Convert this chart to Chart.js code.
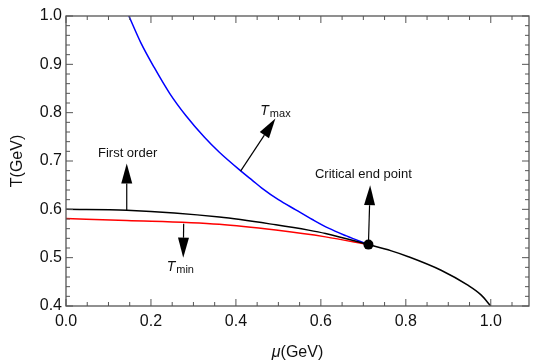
<!DOCTYPE html>
<html>
<head>
<meta charset="utf-8">
<script src="https://cdn.jsdelivr.net/npm/chart.js@4"></script>
<style>
  html, body { margin: 0; padding: 0; background: #fff; }
  #wrap { width: 534px; height: 362px; }
</style>
</head>
<body>
<div id="wrap"><canvas id="phase"></canvas></div>
<script>
// phase diagram T(mu)
const blackMu = [0, 0.143, 0.361, 0.494, 0.571, 0.611, 0.712, 0.766, 0.806, 0.883, 0.946, 0.977, 1.0];
const blackT  = [0.600, 0.598, 0.584, 0.568, 0.557, 0.550, 0.527, 0.514, 0.502, 0.474, 0.443, 0.423, 0.400];

const redMu = [0, 0.143, 0.361, 0.494, 0.611, 0.712];
const redT  = [0.581, 0.577, 0.569, 0.557, 0.543, 0.527];

const blueMu = [0.148, 0.176, 0.208, 0.244, 0.283, 0.326, 0.361, 0.412, 0.440, 0.461, 0.500, 0.541, 0.580, 0.618, 0.660, 0.712];
const blueT  = [1.000, 0.945, 0.893, 0.840, 0.793, 0.749, 0.718, 0.679, 0.659, 0.644, 0.620, 0.599, 0.579, 0.561, 0.545, 0.527];

const cepMu = [0.712];
const cepT  = [0.527];

const xTicks = [0, 0.2, 0.4, 0.6, 0.8, 1.0];
const yTicks = [0.4, 0.5, 0.6, 0.7, 0.8, 0.9, 1.0];

// arrows: base -> tip, in data units
const arrowFromMu = [0.143, 0.411, 0.712, 0.277];
const arrowFromT  = [0.598, 0.679, 0.527, 0.570];
const arrowToMu   = [0.143, 0.493, 0.716, 0.276];
const arrowToT    = [0.695, 0.788, 0.650, 0.500];

// labels: [main text, subscript], centre x and baseline
const labelText = [['First order', ''], ['T', 'max'], ['Critical end point', ''], ['T', 'min']];
const labelMu   = [0.145, 0.492, 0.700, 0.268];
const labelT    = [0.708, 0.795, 0.665, 0.472];

const FONT = "'Liberation Sans', Arial, Helvetica, sans-serif";

function toPts(xs, ys) {
    return xs.map((x, i) => ({ x: x, y: ys[i] }));
}

function drawArrow(ctx, x0, y0, x1, y1) {
    const headLen = 20, headHalf = 5.5;
    const ang = Math.atan2(y1 - y0, x1 - x0);
    const bx = x1 - headLen * Math.cos(ang);
    const by = y1 - headLen * Math.sin(ang);
    ctx.beginPath();
    ctx.moveTo(x0, y0);
    ctx.lineTo(bx, by);
    ctx.stroke();
    ctx.beginPath();
    ctx.moveTo(x1, y1);
    ctx.lineTo(bx + headHalf * Math.sin(ang), by - headHalf * Math.cos(ang));
    ctx.lineTo(bx - headHalf * Math.sin(ang), by + headHalf * Math.cos(ang));
    ctx.closePath();
    ctx.fill();
}

const framePlugin = {
    id: 'frame',
    afterDatasetsDraw(chart) {
        const ctx = chart.ctx;
        const area = chart.chartArea;
        const xs = chart.scales.x, ys = chart.scales.y;
        ctx.save();

        // frame
        ctx.strokeStyle = '#555';
        ctx.lineWidth = 1.3;
        ctx.strokeRect(area.left, area.top, area.right - area.left, area.bottom - area.top);

        // inward ticks on all four sides
        ctx.lineWidth = 1;
        ctx.beginPath();
        for (let i = 0; i <= 21; i++) {
            const v = i * 0.05;
            const px = xs.getPixelForValue(v);
            const len = (i % 4 === 0) ? 7 : 4;
            ctx.moveTo(px, area.bottom); ctx.lineTo(px, area.bottom - len);
            ctx.moveTo(px, area.top); ctx.lineTo(px, area.top + len);
        }
        for (let i = 0; i <= 30; i++) {
            const v = 0.4 + i * 0.02;
            const py = ys.getPixelForValue(v);
            const len = (i % 5 === 0) ? 7 : 4;
            ctx.moveTo(area.left, py); ctx.lineTo(area.left + len, py);
            ctx.moveTo(area.right, py); ctx.lineTo(area.right - len, py);
        }
        ctx.stroke();

        // arrows
        ctx.strokeStyle = '#000';
        ctx.fillStyle = '#000';
        ctx.lineWidth = 1.2;
        for (let i = 0; i < arrowFromMu.length; i++) {
            drawArrow(ctx,
                xs.getPixelForValue(arrowFromMu[i]), ys.getPixelForValue(arrowFromT[i]),
                xs.getPixelForValue(arrowToMu[i]), ys.getPixelForValue(arrowToT[i]));
        }

        // labels
        ctx.fillStyle = '#111';
        ctx.textBaseline = 'alphabetic';
        ctx.textAlign = 'left';
        for (let i = 0; i < labelText.length; i++) {
            const [main, sub] = labelText[i];
            const cx = xs.getPixelForValue(labelMu[i]);
            const by = ys.getPixelForValue(labelT[i]);
            if (sub) {
                ctx.font = 'italic 14px ' + FONT;
                const w1 = ctx.measureText(main).width;
                ctx.font = '11px ' + FONT;
                const w2 = ctx.measureText(sub).width;
                const x0 = cx - (w1 + w2) / 2;
                ctx.font = 'italic 14px ' + FONT;
                ctx.fillText(main, x0, by);
                ctx.font = '11px ' + FONT;
                ctx.fillText(sub, x0 + w1 + 1, by + 2);
            } else {
                ctx.font = '13px ' + FONT;
                const w = ctx.measureText(main).width;
                ctx.fillText(main, cx - w / 2, by);
            }
        }

        // axis titles
        ctx.fillStyle = '#111';
        ctx.font = '16px ' + FONT;
        ctx.save();
        ctx.translate(22, (area.top + area.bottom) / 2);
        ctx.rotate(-Math.PI / 2);
        ctx.textAlign = 'center';
        ctx.fillText('T(GeV)', 0, 0);
        ctx.restore();

        ctx.font = 'italic 16px ' + FONT;
        const wMu = ctx.measureText('μ').width;
        ctx.font = '16px ' + FONT;
        const wRest = ctx.measureText('(GeV)').width;
        const tx = (area.left + area.right) / 2 - (wMu + wRest) / 2;
        ctx.textAlign = 'left';
        ctx.font = 'italic 16px ' + FONT;
        ctx.fillText('μ', tx, 357);
        ctx.font = '16px ' + FONT;
        ctx.fillText('(GeV)', tx + wMu, 357);

        ctx.restore();
    }
};

const lineStyle = {
    showLine: true,
    pointRadius: 0,
    borderWidth: 1.5,
    fill: false,
    cubicInterpolationMode: 'monotone'
};

new Chart(document.getElementById('phase'), {
    type: 'scatter',
    data: {
        datasets: [
            Object.assign({ data: toPts(cepMu, cepT), pointRadius: 5, pointBackgroundColor: '#000', pointBorderWidth: 0, showLine: false }),
            Object.assign({ data: toPts(blackMu, blackT), borderColor: '#000' }, lineStyle),
            Object.assign({ data: toPts(blueMu, blueT), borderColor: '#0000ff' }, lineStyle),
            Object.assign({ data: toPts(redMu, redT), borderColor: '#ff0000' }, lineStyle)
        ]
    },
    options: {
        responsive: true,
        maintainAspectRatio: false,
        animation: false,
        layout: { padding: { top: 16, right: 3, left: 0, bottom: 0 } },
        plugins: {
            legend: { display: false },
            tooltip: { enabled: false }
        },
        scales: {
            x: {
                type: 'linear',
                min: 0,
                max: 1.09,
                afterBuildTicks: (scale) => { scale.ticks = xTicks.map(v => ({ value: v })); },
                afterFit: (scale) => { scale.height = 56; },
                grid: { display: false, drawTicks: false },
                border: { display: false },
                ticks: {
                    padding: 6,
                    color: '#111',
                    font: { family: FONT, size: 16 },
                    maxRotation: 0,
                    callback: (v) => Number(v).toFixed(1)
                }
            },
            y: {
                type: 'linear',
                min: 0.4,
                max: 1.0,
                afterBuildTicks: (scale) => { scale.ticks = yTicks.map(v => ({ value: v })); },
                afterFit: (scale) => { scale.width = 66; },
                grid: { display: false, drawTicks: false },
                border: { display: false },
                ticks: {
                    padding: 4,
                    color: '#111',
                    font: { family: FONT, size: 16 },
                    callback: (v) => Number(v).toFixed(1)
                }
            }
        }
    },
    plugins: [framePlugin]
});
</script>
</body>
</html>
